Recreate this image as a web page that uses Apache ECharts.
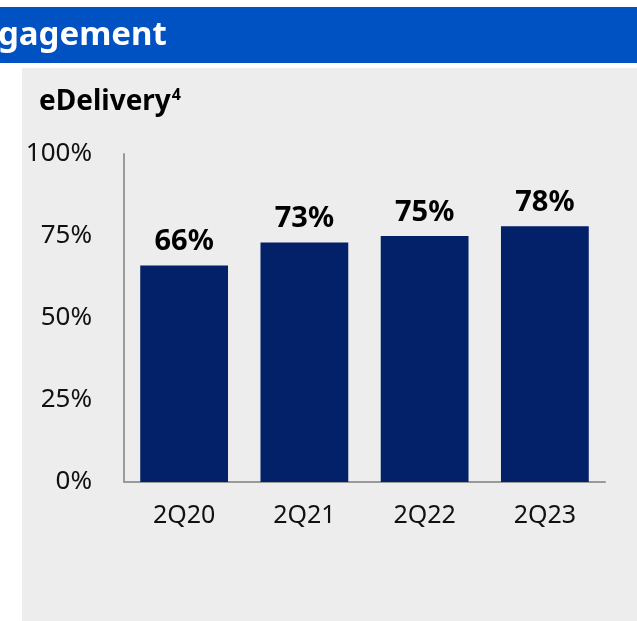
<!DOCTYPE html>
<html>
<head>
<meta charset="utf-8">
<script src="https://cdn.jsdelivr.net/npm/echarts@6/dist/echarts.min.js"></script>
<style>
  html, body { margin: 0; padding: 0; background: #fff; }
  #chart { width: 637px; height: 621px; }
</style>
</head>
<body>
<div id="chart"></div>
<script>
const categories = ['2Q20', '2Q21', '2Q22', '2Q23']
const eDelivery = [66, 73, 75, 78]
const yTicks = [0, 25, 50, 75, 100]

const chart = echarts.init(document.getElementById('chart'))

chart.setOption({
  animation: false,
  textStyle: { fontFamily: 'Noto Sans' },
  graphic: [
    {
      type: 'rect',
      shape: { x: 0, y: 7, width: 637, height: 56 },
      style: { fill: '#0052c2' },
      z: -10
    },
    {
      type: 'text',
      x: -2,
      y: 36,
      style: {
        text: 'gagement',
        fill: '#fff',
        font: 'bold 33px "Noto Sans"',
        textVerticalAlign: 'middle'
      }
    },
    {
      type: 'rect',
      shape: { x: 22, y: 68, width: 615, height: 553 },
      style: { fill: '#ededed' },
      z: -10
    }
  ],
  title: {
    left: 34,
    top: 82,
    text: '{a|eDelivery}{s|4}',
    textStyle: {
      rich: {
        a: { fontSize: 28, fontWeight: 'bold', color: '#000', fontFamily: 'Noto Sans' },
        s: { fontSize: 16, fontWeight: 'bold', color: '#000', fontFamily: 'Noto Sans', verticalAlign: 'top', padding: [0, 0, 14, 1] }
      }
    }
  },
  grid: { left: 124, right: 32, top: 154, bottom: 139 },
  xAxis: {
    type: 'category',
    data: categories,
    axisLine: { lineStyle: { color: '#9a9a9a', width: 2 } },
    axisTick: { show: false },
    axisLabel: { fontSize: 25, color: '#111', margin: 21 }
  },
  yAxis: {
    type: 'value',
    min: yTicks[0],
    max: yTicks[yTicks.length - 1],
    interval: 25,
    axisLine: { show: true, lineStyle: { color: '#9a9a9a', width: 2 } },
    axisTick: { show: false },
    splitLine: { show: false },
    axisLabel: { fontSize: 26, color: '#111', margin: 32, formatter: '{value}%' }
  },
  series: [
    {
      type: 'bar',
      data: eDelivery,
      barWidth: '73%',
      itemStyle: { color: '#022169' },
      label: {
        show: true,
        position: 'top',
        distance: 9,
        formatter: '{c}%',
        fontSize: 29,
        fontWeight: 'bold',
        color: '#000'
      }
    }
  ]
})
</script>
</body>
</html>
